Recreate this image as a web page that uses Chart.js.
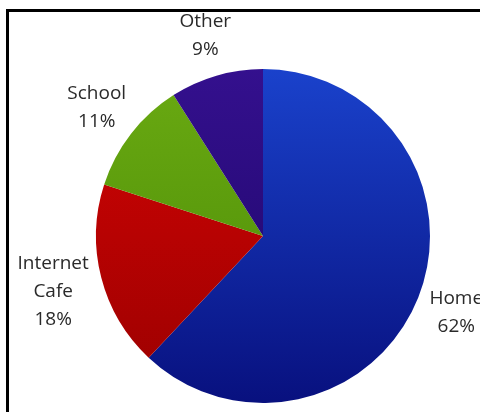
<!DOCTYPE html>
<html>
<head>
<meta charset="utf-8">
<script src="https://cdn.jsdelivr.net/npm/chart.js@4.4.0/dist/chart.umd.min.js"></script>
<style>
    html, body { margin: 0; padding: 0; background: #ffffff; }
    #wrap { position: relative; width: 480px; height: 412px; }
</style>
</head>
<body>
<div id="wrap"><canvas id="chart1"></canvas></div>
<script>
// data, clockwise from 12 o'clock
var places = ['Home', 'Internet Cafe', 'School', 'Other'];
var shares = [62, 18, 11, 9];
var labelLines = [['Home', '62%'], ['Internet', 'Cafe', '18%'], ['School', '11%'], ['Other', '9%']];
var topColors = ['#1a42cc', '#d40404', '#6aaa12', '#34108e'];
var bottomColors = ['#08107e', '#9a0000', '#4a8a06', '#1c0566'];

function sliceGradient(context) {
    var chart = context.chart;
    var area = chart.chartArea;
    if (!area) return topColors[context.dataIndex];
    var g = chart.ctx.createLinearGradient(0, area.top, 0, area.bottom);
    g.addColorStop(0, topColors[context.dataIndex]);
    g.addColorStop(1, bottomColors[context.dataIndex]);
    return g;
}

// frame: only top and left lines show in the picture
var framePlugin = {
    id: 'frame',
    afterDraw: function(chart) {
        var ctx = chart.ctx;
        ctx.save();
        ctx.fillStyle = '#000000';
        ctx.fillRect(6, 9, 474, 3);
        ctx.fillRect(6, 9, 3, 403);
        ctx.restore();
    }
};

// outside-end labels, like the spreadsheet one
var labelPlugin = {
    id: 'outLabels',
    afterDatasetsDraw: function(chart) {
        var ctx = chart.ctx;
        var meta = chart.getDatasetMeta(0);
        var fontSize = 19;
        var lineH = 28;
        ctx.save();
        ctx.font = fontSize + 'px "Open Sans"';
        ctx.fillStyle = '#2a2a2a';
        ctx.textAlign = 'center';
        ctx.textBaseline = 'middle';
        meta.data.forEach(function(arc, i) {
            var mid = (arc.startAngle + arc.endAngle) / 2;
            var dx = Math.cos(mid);
            var dy = Math.sin(mid);
            var px = arc.x + (arc.outerRadius + 14) * dx;
            var py = arc.y + (arc.outerRadius + 14) * dy;
            var lines = labelLines[i];
            var w = 0;
            lines.forEach(function(t) { w = Math.max(w, ctx.measureText(t).width); });
            var h = lines.length * lineH;
            var cx = px + dx * w / 2;
            var cy = py + dy * h / 2;
            lines.forEach(function(t, k) {
                ctx.fillText(t, cx, cy - h / 2 + lineH / 2 + k * lineH);
            });
        });
        ctx.restore();
    }
};

window.onload = function() {
    var ctx1 = document.getElementById('chart1').getContext('2d');
    var chart1 = new Chart(ctx1, {
        type: 'pie',
        data: {
            labels: places,
            datasets: [{
                data: shares,
                backgroundColor: sliceGradient,
                borderWidth: 0
            }]
        },
        options: {
            responsive: true,
            maintainAspectRatio: false,
            animation: false,
            layout: { padding: { left: 96, right: 50, top: 67, bottom: 7 } },
            plugins: {
                legend: { display: false },
                tooltip: { enabled: false },
                title: { display: false }
            }
        },
        plugins: [labelPlugin, framePlugin]
    });
};
</script>
</body>
</html>
